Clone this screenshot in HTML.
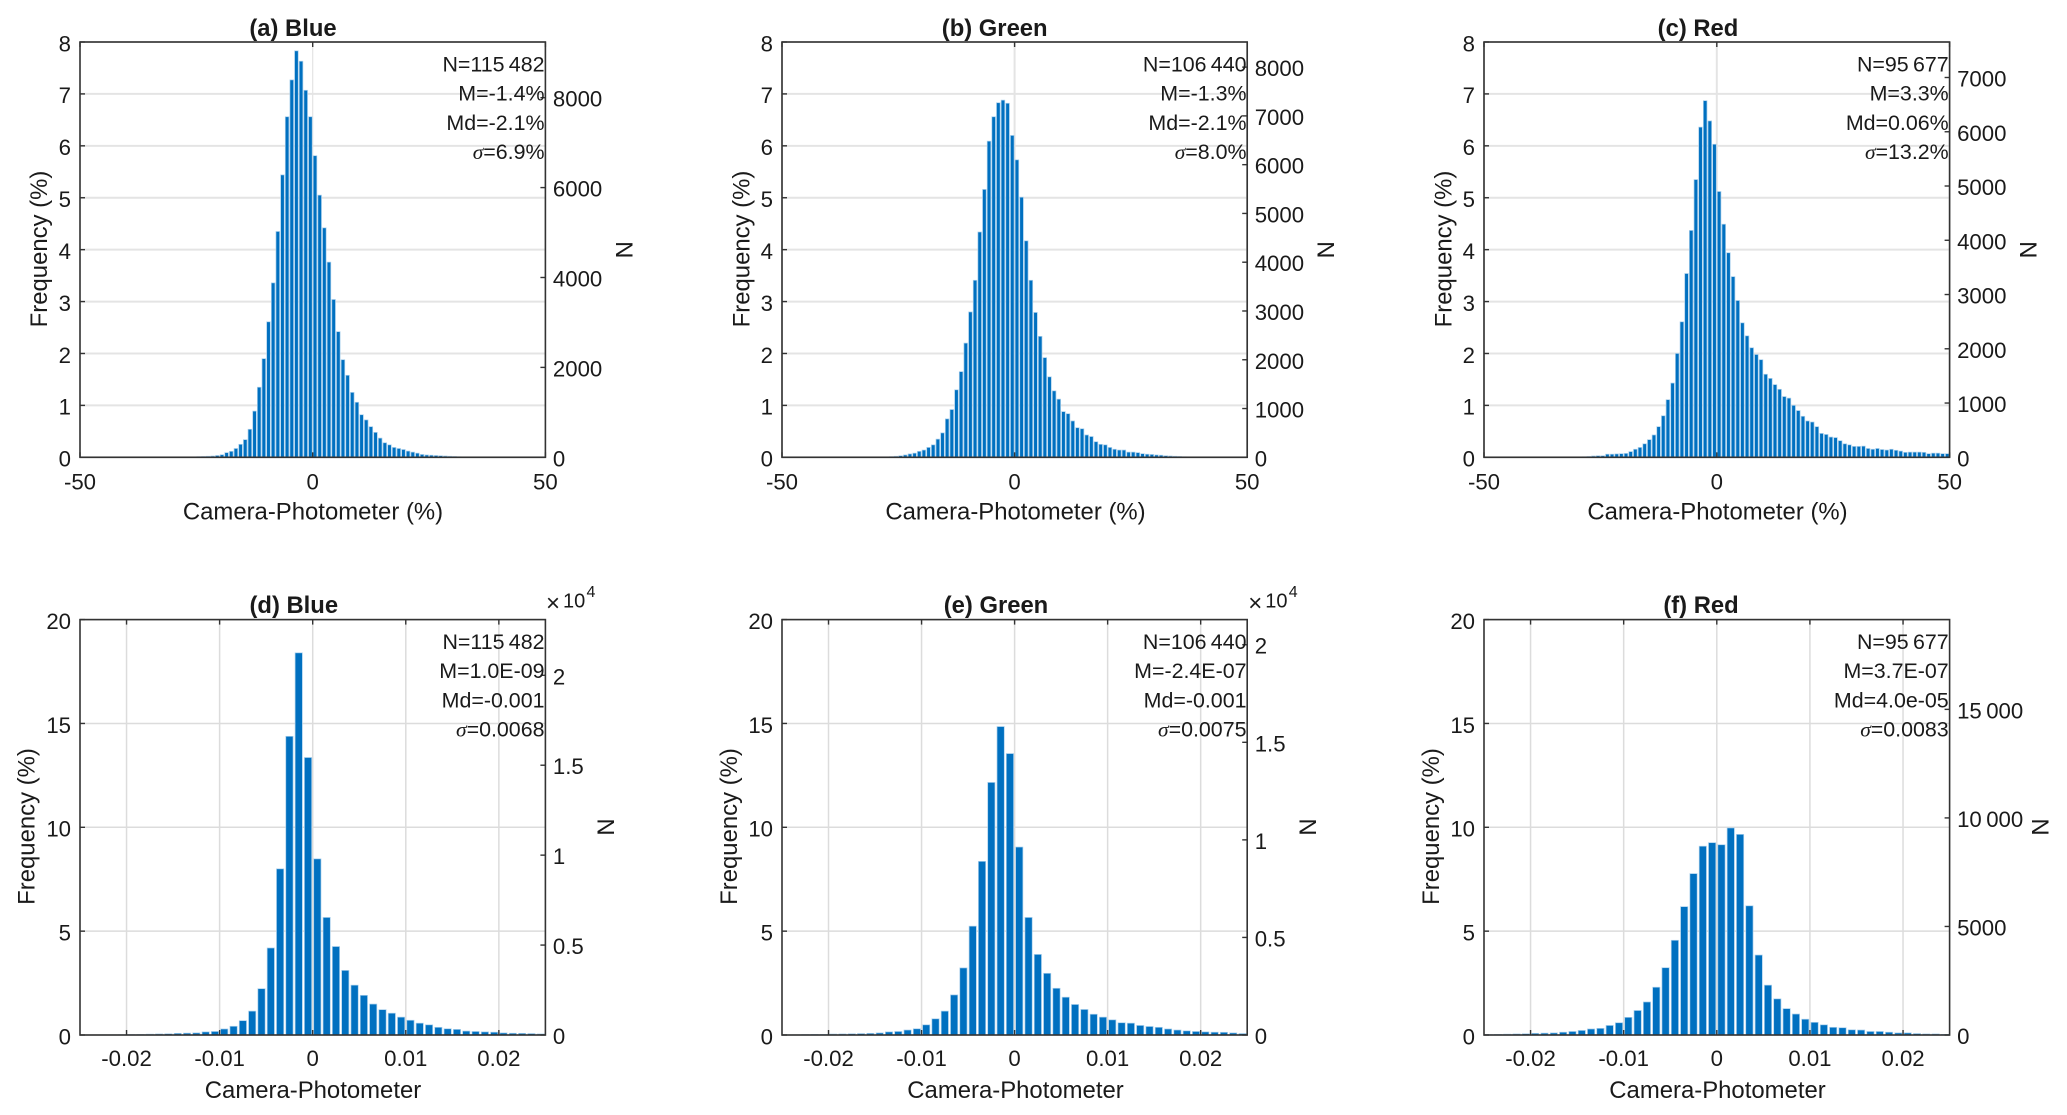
<!DOCTYPE html>
<html lang="en">
<head>
<meta charset="utf-8">
<title>Camera-Photometer histograms</title>
<style>
html,body{margin:0;padding:0;background:#fff;width:2067px;height:1115px;overflow:hidden}
svg{display:block}
text{font-family:"Liberation Sans",sans-serif;fill:#1a1a1a}
.title{font-size:23.8px;font-weight:bold;text-anchor:middle}
.axl{font-size:23.9px;text-anchor:middle}
.tick{font-size:22.2px}
.ann{font-size:21.4px;text-anchor:end}
.sig{font-family:"Liberation Serif",serif;font-style:italic}
</style>
</head>
<body>
<svg id="chart" xmlns="http://www.w3.org/2000/svg" width="2067" height="1115" viewBox="0 0 2067 1115">
<rect width="2067" height="1115" fill="#fff"/>

<g id="panel-a">
<g class="marks"></g>
<text class="title" x="293" y="36">(a) Blue</text>
<text class="axl" x="313" y="519.5">Camera-Photometer (%)</text>
<text class="axl" transform="translate(46.8,249) rotate(-90)">Frequency (%)</text>
<text class="axl" transform="translate(616,249.7) rotate(90)">N</text>
<text class="ann" x="544.5" y="71.5">N=115&#8201;482</text>
<text class="ann" x="544.5" y="100.7">M=-1.4%</text>
<text class="ann" x="544.5" y="130">Md=-2.1%</text>
<text class="ann" x="544.5" y="159"><tspan class="sig">σ</tspan>=6.9%</text>
</g>

<g id="panel-b">
<g class="marks"></g>
<text class="title" x="994.7" y="36">(b) Green</text>
<text class="axl" x="1015.5" y="519.5">Camera-Photometer (%)</text>
<text class="axl" transform="translate(749.3,249) rotate(-90)">Frequency (%)</text>
<text class="axl" transform="translate(1317.5,249.7) rotate(90)">N</text>
<text class="ann" x="1246.5" y="71.5">N=106&#8201;440</text>
<text class="ann" x="1246.5" y="100.7">M=-1.3%</text>
<text class="ann" x="1246.5" y="130">Md=-2.1%</text>
<text class="ann" x="1246.5" y="159"><tspan class="sig">σ</tspan>=8.0%</text>
</g>

<g id="panel-c">
<g class="marks"></g>
<text class="title" x="1698" y="36">(c) Red</text>
<text class="axl" x="1717.5" y="519.5">Camera-Photometer (%)</text>
<text class="axl" transform="translate(1451.3,249) rotate(-90)">Frequency (%)</text>
<text class="axl" transform="translate(2020,249.7) rotate(90)">N</text>
<text class="ann" x="1948.7" y="71.5">N=95&#8201;677</text>
<text class="ann" x="1948.7" y="100.7">M=3.3%</text>
<text class="ann" x="1948.7" y="130">Md=0.06%</text>
<text class="ann" x="1948.7" y="159"><tspan class="sig">σ</tspan>=13.2%</text>
</g>

<g id="panel-d">
<g class="marks"></g>
<text class="title" x="293.8" y="613">(d) Blue</text>
<text class="axl" x="313" y="1098">Camera-Photometer</text>
<text class="axl" transform="translate(34.5,826.5) rotate(-90)">Frequency (%)</text>
<text class="axl" transform="translate(597.5,827) rotate(90)">N</text>
<text class="ann" x="544.5" y="649">N=115&#8201;482</text>
<text class="ann" x="544.5" y="678">M=1.0E-09</text>
<text class="ann" x="544.5" y="707.5">Md=-0.001</text>
<text class="ann" x="544.5" y="736.5"><tspan class="sig">σ</tspan>=0.0068</text>
<g><text x="546" y="611" font-size="24">×</text><text x="563" y="607.7" font-size="20">10</text><text x="586.5" y="597" font-size="16">4</text></g>
</g>

<g id="panel-e">
<g class="marks"></g>
<text class="title" x="996" y="613">(e) Green</text>
<text class="axl" x="1015.5" y="1098">Camera-Photometer</text>
<text class="axl" transform="translate(737,826.5) rotate(-90)">Frequency (%)</text>
<text class="axl" transform="translate(1299.5,827) rotate(90)">N</text>
<text class="ann" x="1246.5" y="649">N=106&#8201;440</text>
<text class="ann" x="1246.5" y="678">M=-2.4E-07</text>
<text class="ann" x="1246.5" y="707.5">Md=-0.001</text>
<text class="ann" x="1246.5" y="736.5"><tspan class="sig">σ</tspan>=0.0075</text>
<g><text x="1248.3" y="611" font-size="24">×</text><text x="1265.3" y="607.7" font-size="20">10</text><text x="1288.8" y="597" font-size="16">4</text></g>
</g>

<g id="panel-f">
<g class="marks"></g>
<text class="title" x="1701" y="613">(f) Red</text>
<text class="axl" x="1717.5" y="1098">Camera-Photometer</text>
<text class="axl" transform="translate(1439,826.5) rotate(-90)">Frequency (%)</text>
<text class="axl" transform="translate(2032,827) rotate(90)">N</text>
<text class="ann" x="1948.7" y="649">N=95&#8201;677</text>
<text class="ann" x="1948.7" y="678">M=3.7E-07</text>
<text class="ann" x="1948.7" y="707.5">Md=4.0e-05</text>
<text class="ann" x="1948.7" y="736.5"><tspan class="sig">σ</tspan>=0.0083</text>
</g>
</svg>

<script>
// Shared axis ticks
const topXTicks = [-50, 0, 50];
const topXTickLabels = ['-50', '0', '50'];
const topYTicks = [0, 1, 2, 3, 4, 5, 6, 7, 8];
const bottomXTicks = [-0.02, -0.01, 0, 0.01, 0.02];
const bottomXTickLabels = ['-0.02', '-0.01', '0', '0.01', '0.02'];
const bottomYTicks = [0, 5, 10, 15, 20];

// Frequency (%) per bin
const blueRelativeFreq = [.005,.008,.012,.015,.02,.025,.035,.05,.09,.115,.17,.25,.34,.54,.89,1.35,1.90,2.61,3.36,4.35,5.44,6.56,7.27,7.83,7.63,7.07,6.56,5.81,5.05,4.42,3.76,3.04,2.42,1.88,1.58,1.25,1.06,.82,.72,.59,.48,.37,.28,.24,.19,.17,.15,.12,.10,.08,.055,.045,.04,.035,.03,.025,.02,.015,.01,.005];
const greenRelativeFreq = [.004,.007,.012,.02,.03,.045,.065,.08,.115,.14,.19,.24,.35,.47,.74,.92,1.30,1.65,2.20,2.80,3.41,4.34,5.16,6.09,6.56,6.83,6.88,6.82,6.2,5.73,5.01,4.17,3.41,2.79,2.33,1.92,1.55,1.28,1.12,.88,.84,.70,.57,.55,.43,.40,.30,.25,.24,.19,.155,.14,.14,.10,.10,.09,.07,.06,.055,.045,.04,.03,.025,.02,.015,.01,.008,.004];
const redRelativeFreq = [.005,.01,.015,.025,.03,.03,.06,.06,.065,.07,.075,.11,.155,.19,.26,.34,.43,.59,.80,1.11,1.43,2.0,2.61,3.54,4.37,5.35,6.36,6.87,6.48,6.03,5.12,4.49,3.94,3.48,3.02,2.59,2.34,2.11,1.98,1.88,1.60,1.52,1.40,1.31,1.17,1.14,1.0,.90,.79,.70,.68,.59,.46,.44,.39,.38,.32,.26,.24,.21,.21,.215,.17,.155,.17,.15,.14,.155,.135,.12,.095,.10,.10,.10,.095,.07,.08,.08,.07,.07];
const blueAbsoluteFreq = [.005,.005,.01,.01,.015,.02,.025,.04,.05,.06,.08,.09,.10,.15,.17,.29,.42,.69,1.15,2.23,4.19,8.0,14.38,18.4,13.36,8.48,5.66,4.26,3.11,2.40,1.91,1.49,1.22,1.05,.86,.71,.57,.49,.37,.30,.27,.19,.17,.15,.135,.10,.085,.08,.07,.05];
const greenAbsoluteFreq = [.01,.01,.02,.03,.03,.045,.05,.06,.07,.08,.10,.15,.17,.24,.30,.49,.78,1.15,1.93,3.23,5.24,8.36,12.16,14.85,13.55,9.05,5.66,3.88,2.97,2.25,1.82,1.47,1.23,1.0,.86,.73,.59,.57,.46,.41,.37,.29,.24,.20,.17,.15,.135,.13,.10,.07];
const redAbsoluteFreq = [.02,.03,.04,.05,.06,.08,.09,.10,.135,.17,.22,.29,.32,.46,.59,.85,1.18,1.59,2.30,3.24,4.56,6.18,7.77,9.09,9.26,9.16,9.97,9.66,6.22,3.85,2.40,1.74,1.27,1.01,.76,.61,.49,.37,.35,.25,.24,.17,.17,.135,.10,.10,.07,.05,.05,.03];

// Right-hand (N) axis ticks
const blueTopNTicks = [0, 2000, 4000, 6000, 8000];
const greenTopNTicks = [0, 1000, 2000, 3000, 4000, 5000, 6000, 7000, 8000];
const redTopNTicks = [0, 1000, 2000, 3000, 4000, 5000, 6000, 7000];
const blueBottomNTicks = [0, 5000, 10000, 15000, 20000];
const blueBottomNLabels = ['0', '0.5', '1', '1.5', '2'];
const greenBottomNTicks = [0, 5000, 10000, 15000, 20000];
const greenBottomNLabels = ['0', '0.5', '1', '1.5', '2'];
const redBottomNTicks = [0, 5000, 10000, 15000];
const redBottomNLabels = ['0', '5000', '10\u2009000', '15\u2009000'];

// Sample counts per panel
const sampleCounts = [115482, 106440, 95677];

const SVGNS = 'http://www.w3.org/2000/svg';

function make(parent, tag, attrs, text) {
  const el = document.createElementNS(SVGNS, tag);
  for (const k in attrs) el.setAttribute(k, attrs[k]);
  if (text !== undefined) el.textContent = text;
  parent.appendChild(el);
  return el;
}

function drawPanel(p) {
  const root = document.querySelector('#panel-' + p.id + ' .marks');
  const sx = v => p.left + (v - p.xMin) / (p.xMax - p.xMin) * (p.right - p.left);
  const sy = v => p.bottom - v / p.yMax * (p.bottom - p.top);
  const sn = v => p.bottom - v / p.nMax * (p.bottom - p.top);

  p.xTicks.forEach(function (t) {
    const line = make(root, 'line', {x1: sx(t), x2: sx(t), y1: p.top, y2: p.bottom, stroke: p.gridColor, 'stroke-width': p.vGridWidth});
    
    
  });
  p.yTicks.forEach(function (t) {
    const line = make(root, 'line', {x1: p.left, x2: p.right, y1: sy(t), y2: sy(t), stroke: p.gridColor, 'stroke-width': p.hGridWidth});
    
    
  });

  p.values.forEach(function (v, i) {
    const center = p.binStart + i * p.binWidth;
    const half = p.binWidth * 0.39;
    const x0 = sx(center - half);
    const x1 = sx(center + half);
    const bar = make(root, 'rect', {x: x0, y: sy(v), width: x1 - x0, height: p.bottom - sy(v), fill: '#0070c0', stroke: '#a8cfec', 'stroke-width': 0.7});
    
    
  });

  const box = make(root, 'rect', {x: p.left, y: p.top, width: p.right - p.left, height: p.bottom - p.top, fill: 'none', stroke: '#333', 'stroke-width': 1.6});
  
  

  p.xTicks.forEach(function (t, i) {
    const low = make(root, 'line', {x1: sx(t), x2: sx(t), y1: p.bottom, y2: p.bottom - 5, stroke: '#333', 'stroke-width': 1.4});
    
    
    const high = make(root, 'line', {x1: sx(t), x2: sx(t), y1: p.top, y2: p.top + 5, stroke: '#333', 'stroke-width': 1.4});
    
    
    const label = make(root, 'text', {class: 'tick', x: sx(t), y: p.xLabelY, 'text-anchor': 'middle'}, p.xLabels[i]);
    
    
  });

  p.yTicks.forEach(function (t) {
    const mark = make(root, 'line', {x1: p.left, x2: p.left + 5, y1: sy(t), y2: sy(t), stroke: '#333', 'stroke-width': 1.4});
    
    
    const label = make(root, 'text', {class: 'tick', x: p.left - 9, y: sy(t) + 9.3, 'text-anchor': 'end'}, String(t));
    
    
  });

  p.nTicks.forEach(function (t, i) {
    const mark = make(root, 'line', {x1: p.right, x2: p.right - 5, y1: sn(t), y2: sn(t), stroke: '#333', 'stroke-width': 1.4});
    
    
    const label = make(root, 'text', {class: 'tick', x: p.right + 7.5, y: sn(t) + 9, 'text-anchor': 'start'}, p.nLabels ? p.nLabels[i] : String(t));
    
    
  });
}

const topRow = {top: 42, bottom: 457.3, xMin: -50, xMax: 50, yMax: 8, xTicks: topXTicks, xLabels: topXTickLabels, yTicks: topYTicks, xLabelY: 489.3, gridColor: '#e4e4e4', hGridWidth: 2, binWidth: 1};
const bottomRow = {top: 619.6, bottom: 1035, xMin: -0.025, xMax: 0.025, yMax: 20, xTicks: bottomXTicks, xLabels: bottomXTickLabels, yTicks: bottomYTicks, xLabelY: 1066, gridColor: '#dcdcdc', hGridWidth: 1.5, vGridWidth: 1.5, binWidth: 0.001};

drawPanel(Object.assign({}, topRow, {id: 'a', left: 80, right: 545.4, vGridWidth: 1.2, values: blueRelativeFreq, binStart: -26.5, nMax: sampleCounts[0] * 0.08, nTicks: blueTopNTicks}));
drawPanel(Object.assign({}, topRow, {id: 'b', left: 782, right: 1247.2, vGridWidth: 2, values: greenRelativeFreq, binStart: -28.5, nMax: sampleCounts[1] * 0.08, nTicks: greenTopNTicks}));
drawPanel(Object.assign({}, topRow, {id: 'c', left: 1484, right: 1949.6, vGridWidth: 2, values: redRelativeFreq, binStart: -29.5, nMax: sampleCounts[2] * 0.08, nTicks: redTopNTicks}));
drawPanel(Object.assign({}, bottomRow, {id: 'd', left: 80, right: 545.4, values: blueAbsoluteFreq, binStart: -0.0245, nMax: sampleCounts[0] * 0.2, nTicks: blueBottomNTicks, nLabels: blueBottomNLabels}));
drawPanel(Object.assign({}, bottomRow, {id: 'e', left: 782, right: 1247.2, values: greenAbsoluteFreq, binStart: -0.0245, nMax: sampleCounts[1] * 0.2, nTicks: greenBottomNTicks, nLabels: greenBottomNLabels}));
drawPanel(Object.assign({}, bottomRow, {id: 'f', left: 1484, right: 1949.6, values: redAbsoluteFreq, binStart: -0.0245, nMax: sampleCounts[2] * 0.2, nTicks: redBottomNTicks, nLabels: redBottomNLabels}));
</script>
</body>
</html>
